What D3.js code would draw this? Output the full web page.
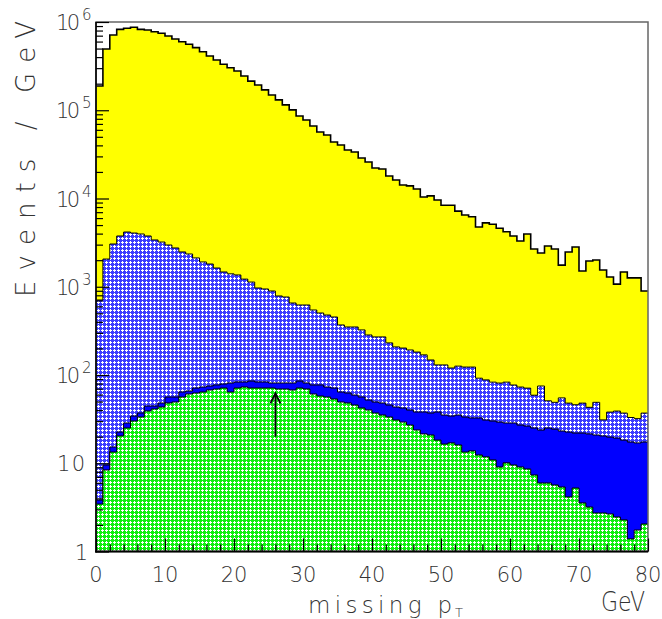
<!DOCTYPE html>
<html>
<head>
<meta charset="utf-8">
<script src="https://cdn.jsdelivr.net/npm/d3@7"></script>
<style>
body { margin:0; background:#fff; }
text { font-family: "DejaVu Sans", "Liberation Sans", sans-serif; font-weight:200; fill:#333; }
</style>
</head>
<body>
<div class="chart"></div>
<script>
// bin lower edges, 1 GeV wide
const binEdges = d3.range(0, 80);

// total (yellow, black outline)
const allEvents = [1.88e5,4.94e5,7.13e5,8.26e5,8.49e5,8.71e5,8.26e5,8.11e5,7.76e5,7.45e5,
  6.94e5,6.41e5,5.98e5,5.59e5,5.12e5,4.61e5,4.12e5,3.71e5,3.32e5,3.03e5,
  2.79e5,2.44e5,2.14e5,1.93e5,1.70e5,1.49e5,1.31e5,1.15e5,1.01e5,8.6e4,
  7.76e4,6.63e4,5.67e4,5.25e4,4.37e4,4.04e4,3.55e4,3.37e4,2.88e4,2.59e4,
  2.22e4,2.16e4,1.80e4,1.62e4,1.42e4,1.39e4,1.28e4,1.04e4,1.07e4,9.6e3,
  8.4e3,8.4e3,7.2e3,6.5e3,6.2e3,4.75e3,5.3e3,5.1e3,4.6e3,4.2e3,
  3.76e3,3.3e3,3.96e3,2.68e3,2.41e3,2.9e3,2.68e3,1.76e3,2.48e3,2.82e3,
  1.51e3,1.96e3,2.01e3,1.55e3,1.29e3,1.07e3,1.47e3,1.26e3,1.26e3,895];

// blue cross-hatched
const hatchBlue = [708,2060,3050,3760,4170,4060,3960,3760,3390,3210,
  2970,2750,2480,2350,2120,1910,1810,1630,1470,1400,
  1360,1220,1130,968,943,895,786,765,654,621,
  621,545,504,478,454,369,350,350,324,284,
  270,270,231,208,202,192,182,169,148,130,
  130,120,126,123,123,92,88,83,81,83,
  77,73,71,59,75,51,49,55,48,46,
  48,43,49,31,38,39,37,33,32,37];

// solid blue
const solidBlue = [3.83,9.55,15.3,22.6,28.6,34.3,37.1,44.5,44.5,48.2,
  56.3,56.3,64.2,65.9,71.2,73.1,75.0,77.1,79.1,81.2,
  83.3,83.3,85.5,83.3,83.3,81.2,81.2,81.2,81.2,85.5,
  81.2,77.1,77.1,73.1,71.2,64.2,62.5,59.3,56.3,52.1,
  49.4,48.2,45.7,43.4,42.3,40.1,38.1,38.1,37.1,38.1,
  35.2,34.3,35.2,33.4,32.6,32.6,30.9,30.1,29.3,28.6,
  28.6,27.1,26.4,25.1,23.8,25.1,24.4,23.2,22.6,22.0,
  22.0,21.5,20.9,20.4,19.8,19.3,18.3,17.4,17.0,17.4];

// green cross-hatched
const greenSignal = [3.45,8.39,13.4,20.4,25.1,30.1,33.4,39.1,41.2,43.4,
  48.2,49.4,56.3,60.9,62.5,64.2,67.6,69.4,71.2,64.2,
  71.2,73.1,71.2,71.2,71.2,71.2,69.4,69.4,67.6,71.2,
  69.4,60.9,57.8,56.3,53.5,49.4,48.2,45.7,42.3,40.1,
  37.1,35.2,33.4,30.9,29.3,27.1,23.8,21.5,20.9,18.3,
  16.5,17.0,16.1,13.4,13.8,12.4,11.8,10.9,9.07,10.1,
  9.55,9.07,8.61,7.36,5.97,5.97,5.67,5.38,4.15,5.24,
  3.55,3.19,2.73,2.73,2.66,2.46,2.28,1.39,1.75,2.05];

const xTicks = [0,10,20,30,40,50,60,70,80];
const yExponents = [0,1,2,3,4,5,6];
const arrowX = 26, arrowFrom = 20, arrowTo = 62;

const W = 662, H = 619;
const svg = d3.select(".chart").append("svg")
    .attr("width", W)
    .attr("height", H);

const xScale = d3.scaleLinear().domain([0,80]).range([96,648]);
const yScale = d3.scaleLog().domain([1,1e6]).range([551.5,22]);

// cross-hatch: colour mesh with white plus-shaped holes, 4px period
const defs = svg.append("defs");
function hatch(id, color){
    const p = defs.append("pattern")
        .attr("id", id)
        .attr("patternUnits","userSpaceOnUse")
        .attr("width",4).attr("height",4);
    p.append("rect").attr("width",4).attr("height",4).attr("fill",color);
    p.append("rect").attr("x",2).attr("y",1).attr("width",1).attr("height",3).attr("fill","#fff");
    p.append("rect").attr("x",1).attr("y",2).attr("width",3).attr("height",1).attr("fill","#fff");
}
hatch("hatchBlue","#3c3cff");
hatch("hatchGreen","#10ee10");

defs.append("clipPath").attr("id","plotClip")
  .append("rect")
    .attr("x",96).attr("y",22)
    .attr("width",552).attr("height",529.5);

function steps(vals){
    const d = vals.map((v,i)=>({x:binEdges[i], v:v}));
    d.push({x:80, v:vals[vals.length-1]});
    return d;
}

const area = d3.area()
    .curve(d3.curveStepAfter)
    .x(d=>xScale(d.x))
    .y0(yScale(1))
    .y1(d=>yScale(d.v));
const line = d3.line()
    .curve(d3.curveStepAfter)
    .x(d=>xScale(d.x))
    .y(d=>yScale(d.v));

const layers = [
    {vals: allEvents, fill:"#ffff00", sw:1.6},
    {vals: hatchBlue, fill:"url(#hatchBlue)", sw:1},
    {vals: solidBlue, fill:"#0000ff", sw:1},
    {vals: greenSignal, fill:"url(#hatchGreen)", sw:1}
];

const plot = svg.append("g").attr("clip-path","url(#plotClip)");
layers.forEach(l=>{
    plot.append("path")
        .datum(steps(l.vals))
        .attr("d", area)
        .attr("fill", l.fill)
        .attr("shape-rendering","crispEdges");
    plot.append("path")
        .datum(steps(l.vals))
        .attr("d", line)
        .attr("fill","none")
        .attr("stroke","#000")
        .attr("stroke-width", l.sw);
});

// arrow
const ax = xScale(arrowX);
svg.append("line")
    .attr("x1",ax).attr("x2",ax)
    .attr("y1",yScale(arrowFrom)).attr("y2",yScale(arrowTo))
    .attr("stroke","#000").attr("stroke-width",1.8);
svg.append("path")
    .attr("d",`M${ax-5},${yScale(arrowTo)+10}L${ax},${yScale(arrowTo)}L${ax+5},${yScale(arrowTo)+10}`)
    .attr("fill","none").attr("stroke","#000").attr("stroke-width",1.8);

// frame
svg.append("rect")
    .attr("x",96).attr("y",22)
    .attr("width",552).attr("height",529.5)
    .attr("fill","none").attr("stroke","#666").attr("stroke-width",1.5);
svg.append("line").attr("x1",96).attr("x2",96).attr("y1",22).attr("y2",552.5)
    .attr("stroke","#000").attr("stroke-width",1.6);
svg.append("line").attr("x1",95).attr("x2",648).attr("y1",551.5).attr("y2",551.5)
    .attr("stroke","#000").attr("stroke-width",2);

// ticks (inside)
const yMinor = yScale.ticks().filter(v=>Math.abs(Math.log10(v)-Math.round(Math.log10(v)))>1e-6);
const yMajor = yExponents.map(e=>Math.pow(10,e));
svg.append("g").attr("transform","translate(96,0)")
    .call(d3.axisRight(yScale).tickValues(yMinor).tickSize(7).tickFormat(""))
    .call(g=>g.select(".domain").remove());
svg.append("g").attr("transform","translate(96,0)")
    .call(d3.axisRight(yScale).tickValues(yMajor).tickSize(13).tickFormat(""))
    .call(g=>g.select(".domain").remove());
svg.append("g").attr("transform","translate(0,551.5)")
    .call(d3.axisTop(xScale).tickValues(d3.range(0,81,2).filter(v=>v%10)).tickSize(7).tickFormat(""))
    .call(g=>g.select(".domain").remove());
svg.append("g").attr("transform","translate(0,551.5)")
    .call(d3.axisTop(xScale).tickValues(xTicks).tickSize(13).tickFormat(""))
    .call(g=>g.select(".domain").remove());
svg.selectAll(".tick line").attr("stroke","#000").attr("stroke-width",1.2);

// y labels
yExponents.forEach(e=>{
    const ty = yScale(Math.pow(10,e));
    if (e===0){
        svg.append("text").attr("x",88).attr("y",ty+8)
            .attr("text-anchor","end").attr("font-size",21).text("1");
    } else if (e===1){
        svg.append("text").attr("x",85).attr("y",ty+8)
            .attr("text-anchor","end").attr("font-size",21)
            .attr("textLength",28).text("10");
    } else {
        svg.append("text").attr("x",56).attr("y",ty+8)
            .attr("font-size",21).attr("textLength",24).text("10");
        svg.append("text").attr("x",82).attr("y",ty-2)
            .attr("font-size",15).text(e);
    }
});

// x labels
svg.selectAll(".xlab")
    .data(xTicks)
    .enter()
    .append("text")
    .attr("class","xlab")
    .attr("x",d=>xScale(d))
    .attr("y",582)
    .attr("text-anchor","middle")
    .attr("font-size",21)
    .text(d=>d);

// axis titles
svg.append("text")
    .attr("transform","translate(35,297) rotate(-90)")
    .attr("font-size",26)
    .attr("textLength",276)
    .attr("lengthAdjust","spacing")
    .text("Events / GeV");

svg.append("text")
    .attr("x",308).attr("y",613)
    .attr("font-size",23)
    .attr("textLength",144)
    .attr("lengthAdjust","spacing")
    .text("missing p");
svg.append("text")
    .attr("x",455).attr("y",617)
    .attr("font-size",13)
    .text("T");

svg.append("text")
    .attr("x",601).attr("y",611)
    .attr("font-size",26)
    .attr("textLength",44)
    .attr("lengthAdjust","spacingAndGlyphs")
    .text("GeV");
</script>
</body>
</html>
